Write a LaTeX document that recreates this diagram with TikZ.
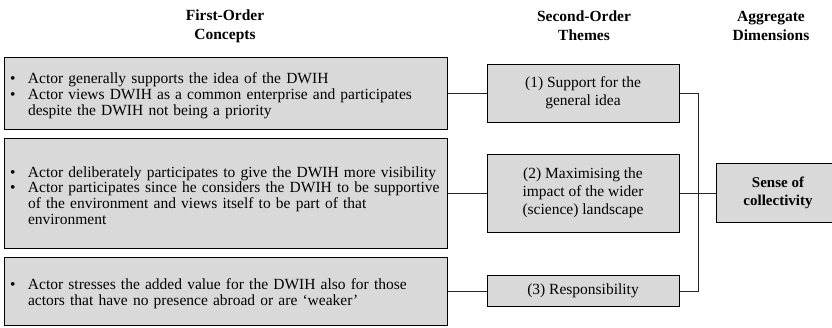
\documentclass[tikz,border=0pt]{standalone}
\usepackage{fontspec}
\setmainfont{Liberation Serif}
\definecolor{boxgray}{HTML}{D9D9D9}
\newcommand{\bitem}[1]{\par\noindent\hangindent=21pt\hangafter=1\makebox[21pt][l]{\hspace{3pt}•}#1\par}
\begin{document}
\begin{tikzpicture}[x=1pt,y=-1pt,
  box/.style={draw=black, line width=1pt, fill=boxgray, inner sep=0pt},
  leftbox/.style={box, minimum width=443pt, text width=437pt, align=left,
    font=\fontsize{15.5}{15.8}\selectfont},
  midbox/.style={box, minimum width=192pt, align=center,
    font=\fontsize{15.5}{18.2}\selectfont},
  aggbox/.style={box, minimum width=124pt, align=center,
    font=\fontsize{15}{18}\selectfont\bfseries},
  header/.style={align=center, inner sep=0pt,
    font=\fontsize{15.5}{19}\selectfont\bfseries},
  conn/.style={draw=black!85, line width=1pt}]
\useasboundingbox (0,0) rectangle (832,327);
% headers
\node[header] (h1) at (225,26) {First-Order\\Concepts};
\node[header] (h2) at (584,26) {Second-Order\\Themes};
\node[header] (h3) at (771,26) {Aggregate\\Dimensions};
% first-order concept boxes
\node[leftbox, minimum height=72pt] (L1) at (225.5,93) {%
  \bitem{Actor generally supports the idea of the DWIH}%
  \bitem{Actor views DWIH as a common enterprise and participates\newline despite the DWIH not being a priority}};
\node[leftbox, minimum height=110pt] (L2) at (225.5,193) {%
  \bitem{Actor deliberately participates to give the DWIH more visibility}%
  \bitem{Actor participates since he considers the DWIH to be supportive\newline of the environment and views itself to be part of that\newline environment}\vspace{4pt}};
\node[leftbox, minimum height=68pt] (L3) at (225.5,291) {%
  \bitem{Actor stresses the added value for the DWIH also for those\newline actors that have no presence abroad or are ‘weaker’}};
% second-order theme boxes
\node[midbox, minimum height=58pt] (M1) at (583,93) {(1) Support for the\\general idea};
\node[midbox, minimum height=78pt] (M2) at (583,193) {(2) Maximising the\\impact of the wider\\(science) landscape};
\node[midbox, minimum height=31pt] (M3) at (583,291) {(3) Responsibility};
% aggregate dimension box
\node[aggbox, minimum height=59pt] (R) at (778,193) {Sense of\\collectivity};
% connectors
\coordinate (J) at (698,193);
\draw[conn] (L1.east) -- (M1.west);
\draw[conn] (L2.east) -- (M2.west);
\draw[conn] (L3.east) -- (M3.west);
\draw[conn] (M1.east) -| (J) |- (M3.east);
\draw[conn] (M2.east) -- (R.west);
\end{tikzpicture}
\end{document}
